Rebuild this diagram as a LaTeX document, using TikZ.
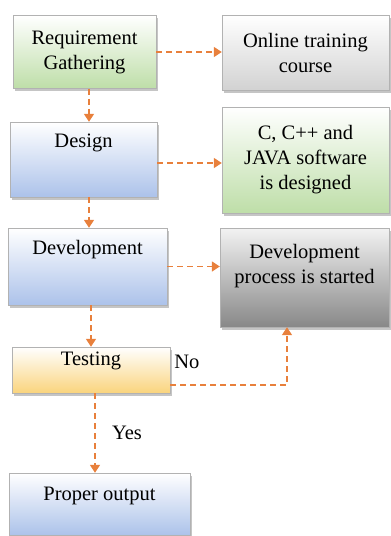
\documentclass[tikz,border=0pt]{standalone}
\usepackage{fontspec}
\setmainfont{Liberation Serif}
\newfontfamily\boxfont{Liberation Serif}
\usetikzlibrary{shapes,arrows.meta,positioning,shadows}
\definecolor{greenbox}{RGB}{190,222,168}
\definecolor{bluebox}{RGB}{172,194,234}
\definecolor{graybox}{RGB}{210,210,210}
\definecolor{darkbox}{RGB}{136,136,136}
\definecolor{yellowbox}{RGB}{250,212,125}
\definecolor{flowline}{RGB}{232,128,60}
\tikzset{
block/.style = {draw=black!30, rectangle, align=center, inner sep=2pt,
  font=\boxfont\fontsize{20.5}{25}\selectfont,
  drop shadow={shadow xshift=1.5pt, shadow yshift=-2.5pt, fill=black!45}},
greenblk/.style = {block, top color=white, bottom color=greenbox},
blueblk/.style = {block, top color=white, bottom color=bluebox},
grayblk/.style = {block, top color=white, bottom color=graybox},
darkblk/.style = {block, top color=white!95!black, bottom color=darkbox},
yellowblk/.style = {block, top color=white, bottom color=yellowbox},
flow/.style = {draw=flowline, line width=1.5pt, dash pattern=on 6pt off 4pt, ->},
txt/.style = {font=\boxfont\fontsize{20.5}{25}\selectfont},
spine/.style = {coordinate}
}
\begin{document}
\begin{tikzpicture}[>={Triangle[length=8pt,width=10pt]}]
    \useasboundingbox (0,0) rectangle (391pt,-536pt);
    % left column of steps
    \node [greenblk, minimum width=143pt, minimum height=73pt] (rg) at (84.5pt,-52pt) {Requirement\\Gathering};
    \node [blueblk, minimum width=147pt, minimum height=75pt, text depth=37pt,
           node distance=107.5pt, below of=rg, xshift=-1pt] (design) {Design};
    \node [blueblk, minimum width=159pt, minimum height=77pt, text depth=39pt,
           node distance=107pt, below of=design, xshift=4pt] (dev) {Development};
    \node [yellowblk, minimum width=158pt, minimum height=46pt, text depth=22pt,
           node distance=103.5pt, below of=dev, xshift=3.5pt] (test) {Testing};
    \node [blueblk, minimum width=181pt, minimum height=62pt, text depth=20pt,
           node distance=134pt, below of=test, xshift=8.5pt] (proper) {Proper output};

    % right column of results
    \node [grayblk, minimum width=167pt, minimum height=75pt,
           node distance=221pt, right of=rg, yshift=-0.5pt] (online) {Online training\\course};
    \node [greenblk, minimum width=167pt, minimum height=106pt,
           node distance=222pt, right of=design, yshift=-0.5pt] (cpp) {C, C++ and\\JAVA software\\is designed};
    \node [darkblk, minimum width=169pt, minimum height=99pt, text depth=28pt,
           node distance=217pt, right of=dev, yshift=-11pt] (devproc) {Development\\process is started};
    \node [spine] (axis) at (89pt,0) {};

    % connectors
    \draw [flow] (rg.south -| axis) -- (design.north -| axis);
    \draw [flow] (design.south -| axis) -- (dev.north -| axis);
    \draw [flow] ([xshift=2pt]dev.south -| axis) -- ([xshift=2pt]test.north -| axis);
    \draw [flow] ([xshift=4pt]test.south) -- node [txt, right, xshift=13pt] {Yes} ([xshift=4pt]test.south |- proper.north);
    \draw [flow] (rg.east) -- (rg.east -| online.west);
    \draw [flow] ([yshift=-3.5pt]design.east) -- ([yshift=-3.5pt]design.east -| cpp.west);
    \draw [flow] (dev.east) -- (dev.east -| devproc.west);
    \draw [flow] ([yshift=-15pt]test.east) -| node [txt, pos=0, anchor=west, yshift=23pt] {No} ([xshift=-17.5pt]devproc.south);
\end{tikzpicture}
\end{document}
